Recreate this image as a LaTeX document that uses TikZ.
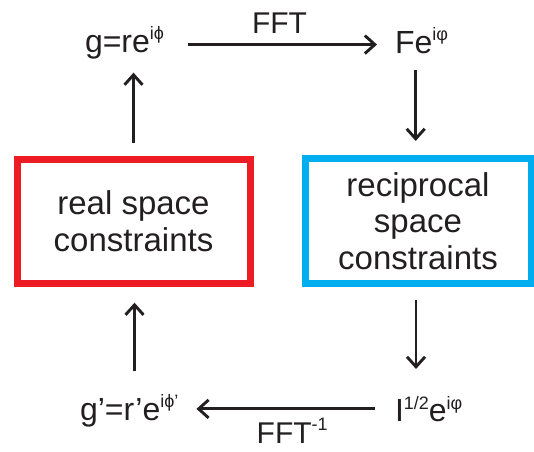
\documentclass[tikz,border=0pt]{standalone}
\usepackage{fontspec}
\setmainfont{Liberation Sans}
\usetikzlibrary{arrows.meta}
\definecolor{ink}{HTML}{231F20}
\definecolor{boxred}{HTML}{ED1C24}
\definecolor{boxblue}{HTML}{00AEEF}
% raised exponent in a smaller size
\newcommand\upidx[1]{\raisebox{12.5pt}{\fontsize{18}{18}\selectfont #1}}

\begin{document}
\begin{tikzpicture}[x=1pt,y=-1pt,
  lbl/.style={inner sep=0pt, outer sep=0pt, anchor=base west, text=ink,
    font=\fontsize{32}{36}\selectfont},
  fftlbl/.style={inner sep=0pt, outer sep=0pt, anchor=base west, text=ink,
    font=\fontsize{30}{34}\selectfont},
  cbox/.style={draw, line width=7pt, inner sep=0pt, outer sep=0pt,
    align=center, text=ink, font=\fontsize{33}{36.5}\selectfont},
  arr/.style={draw=ink, line width=2.9pt,
    -{Straight Barb[length=10pt,width=18pt]}}]
\path[use as bounding box] (0,0) rectangle (534,451);

% formula nodes
\node[lbl] (g)  at (85,52)    {g=re\upidx{iϕ}};
\node[lbl] (F)  at (395,53)   {Fe\upidx{iφ}};
\node[lbl] (I)  at (395,421.5) {I\upidx{1/2}e\upidx{iφ}};
\node[lbl] (gp) at (80,420)   {g’=r’e\upidx{iϕ’}};

% constraint boxes
\node[cbox, draw=boxred, minimum width=233pt, minimum height=124pt]
  (real) at (133.5,221) {real space\\constraints};
\node[cbox, draw=boxblue, minimum width=226pt, minimum height=124.5pt]
  (recip) at (418,221) {reciprocal\\space\\constraints};

% transform labels
\node[fftlbl] (fft)  at (252,33.3)  {FFT};
\node[fftlbl] (ifft) at (256.7,443.3) {FFT\upidx{-1}};

% cycle of arrows
\coordinate (fdrop) at (415.7,70);
\draw[arr, shorten >=14pt] ([yshift=16pt]real.north) -- (real.north |- g.south);
\draw[arr, shorten <=24pt, shorten >=18pt] ([yshift=-2pt]g.east) -- ([yshift=-2pt]g.east -| F.west);
\draw[arr] (fdrop) -- ([yshift=17.8pt]fdrop |- recip.north);
\draw[arr, shorten >=27pt] ([xshift=-2pt,yshift=-16.3pt]recip.south) -- ([xshift=-2pt]recip.south |- I.north);
\draw[arr, shorten <=20pt, shorten >=18pt] (I.west) -- (I.west -| gp.east);
\draw[arr, shorten <=23pt] ([xshift=1pt]real.south |- gp.north) -- ([xshift=1pt,yshift=-19.7pt]real.south);
\end{tikzpicture}
\end{document}
